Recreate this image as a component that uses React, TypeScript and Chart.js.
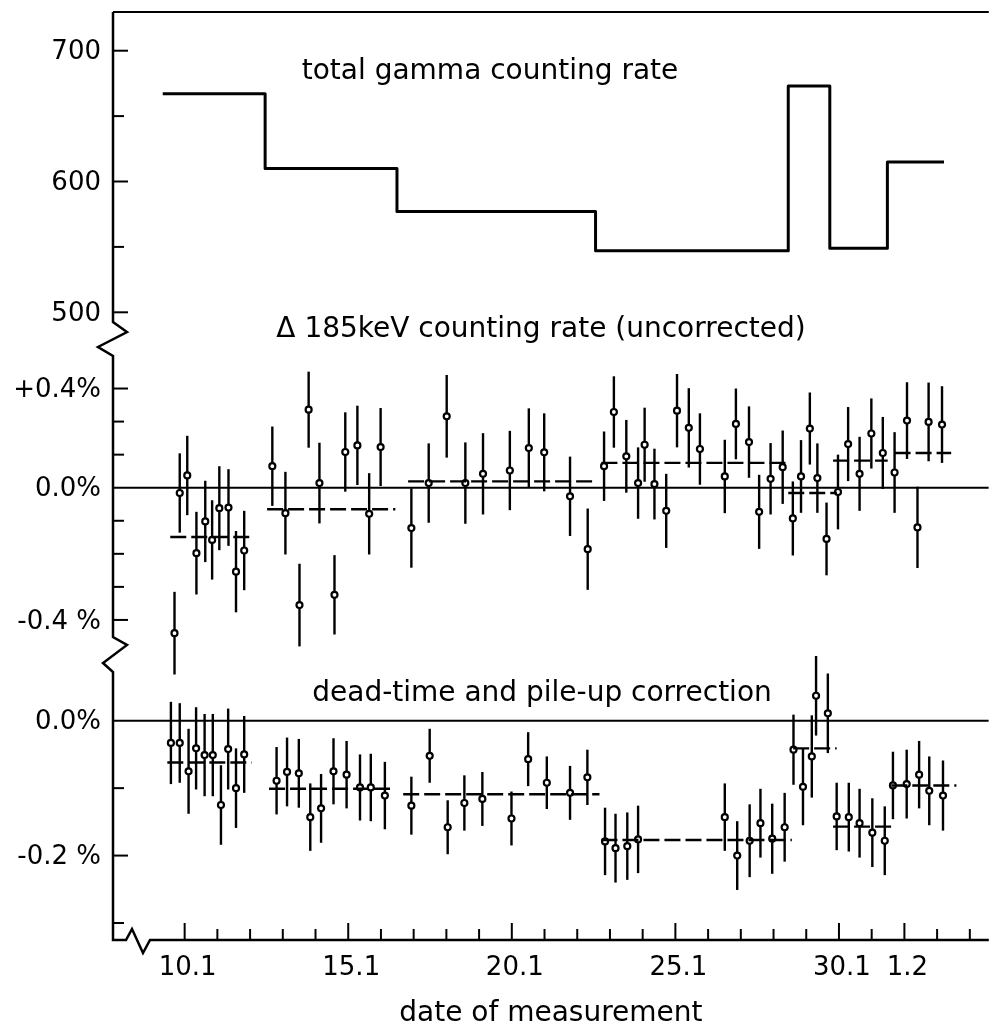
import React, { useEffect, useRef } from 'react';
import { Chart, registerables } from 'chart.js';

Chart.register(...registerables);

const FONT = "'DejaVu Sans', sans-serif";

// ---- top panel: total gamma counting rate (step line) ----
const periodEdges = [9.33, 12.46, 16.49, 22.56, 28.45, 29.72, 31.48, 33.21];
const totalRate = [667, 610, 577, 547, 673, 549, 615];

// ---- middle panel: delta 185 keV counting rate (uncorrected), % ----
const midDays = [
  9.69, 9.85, 10.08, 10.36, 10.63, 10.84, 11.06, 11.34, 11.57, 11.82,
  12.68, 13.08, 13.51, 13.79, 14.12, 14.58, 14.91, 15.28, 15.64, 15.99,
  16.93, 17.46, 18.01, 18.58, 19.12, 19.94, 20.52, 20.99, 21.78, 22.32,
  22.82, 23.12, 23.5, 23.86, 24.06, 24.36, 24.72, 25.05, 25.41, 25.75, 26.51, 26.85, 27.25, 27.56, 27.91, 28.28,
  28.59, 28.84, 29.11, 29.34, 29.62,
  29.97, 30.28, 30.63, 30.99, 31.34,
  31.7, 32.08, 32.4, 32.74, 33.15,
];
const midValues = [
  -0.44, -0.016, 0.037, -0.198, -0.102, -0.158, -0.062, -0.06, -0.254, -0.19,
  0.065, -0.077, -0.355, 0.236, 0.014, -0.324, 0.108, 0.128, -0.079, 0.123,
  -0.122, 0.014, 0.216, 0.014, 0.042, 0.052, 0.12, 0.107, -0.026, -0.186,
  0.065, 0.229, 0.095, 0.014, 0.13, 0.011, -0.07, 0.233, 0.181, 0.117, 0.034, 0.193, 0.138, -0.073, 0.027, 0.062,
  -0.093, 0.034, 0.179, 0.029, -0.155,
  -0.013, 0.132, 0.042, 0.164, 0.105,
  0.046, 0.203, -0.12, 0.199, 0.191,
];
const midErrors = [
  0.125, 0.12, 0.12, 0.125, 0.123, 0.12, 0.127, 0.116, 0.123, 0.12,
  0.12, 0.125, 0.125, 0.115, 0.122, 0.12, 0.12, 0.12, 0.123, 0.118,
  0.12, 0.12, 0.125, 0.123, 0.123, 0.12, 0.12, 0.118, 0.12, 0.123,
  0.105, 0.108, 0.11, 0.108, 0.112, 0.107, 0.112, 0.111, 0.12, 0.108, 0.111, 0.107, 0.108, 0.112, 0.108, 0.111,
  0.112, 0.11, 0.109, 0.105, 0.11,
  0.113, 0.112, 0.112, 0.106, 0.109,
  0.122, 0.116, 0.123, 0.119, 0.116,
];
const midMeanStart = [9.56, 12.52, 16.83, 22.74, 28.45, 29.82, 31.7];
const midMeanEnd = [12.12, 16.44, 22.59, 28.48, 29.94, 31.49, 33.43];
const midMeanValue = [-0.149, -0.065, 0.019, 0.075, -0.016, 0.082, 0.105];

// ---- bottom panel: dead-time and pile-up correction, % ----
const botDays = [
  9.58, 9.85, 10.12, 10.35, 10.61, 10.86, 11.11, 11.33, 11.57, 11.82,
  12.81, 13.13, 13.49, 13.84, 14.17, 14.55, 14.95, 15.36, 15.69, 16.12,
  16.93, 17.49, 18.04, 18.55, 19.1, 19.99, 20.5, 21.07, 21.78, 22.31,
  22.85, 23.17, 23.53, 23.86, 26.51, 26.89, 27.27, 27.6, 27.96, 28.34,
  28.61, 28.9, 29.17, 29.3, 29.66,
  29.93, 30.3, 30.63, 31.02, 31.4,
  31.65, 32.07, 32.45, 32.76, 33.18,
];
const botValues = [
  -0.033, -0.033, -0.075, -0.041, -0.051, -0.051, -0.125, -0.042, -0.1, -0.05,
  -0.089, -0.076, -0.078, -0.143, -0.13, -0.075, -0.08, -0.099, -0.099, -0.111,
  -0.126, -0.052, -0.158, -0.122, -0.116, -0.145, -0.057, -0.092, -0.107, -0.084,
  -0.179, -0.189, -0.186, -0.176, -0.143, -0.2, -0.178, -0.152, -0.175, -0.158,
  -0.043, -0.098, -0.053, 0.037, 0.011,
  -0.142, -0.143, -0.152, -0.166, -0.178,
  -0.096, -0.094, -0.08, -0.104, -0.111,
];
const botErrors = [
  0.061, 0.059, 0.063, 0.061, 0.061, 0.061, 0.059, 0.06, 0.059, 0.057,
  0.05, 0.051, 0.051, 0.05, 0.051, 0.049, 0.05, 0.049, 0.05, 0.05,
  0.043, 0.04, 0.04, 0.041, 0.04, 0.04, 0.04, 0.039, 0.04, 0.041,
  0.05, 0.051, 0.05, 0.05, 0.05, 0.051, 0.054, 0.051, 0.052, 0.051,
  0.052, 0.057, 0.061, 0.059, 0.059,
  0.05, 0.051, 0.051, 0.051, 0.051,
  0.05, 0.051, 0.05, 0.051, 0.052,
];
const botMeanStart = [9.47, 12.58, 16.68, 22.74, 28.6, 29.82, 31.6];
const botMeanEnd = [12.05, 16.4, 22.68, 28.56, 29.93, 31.6, 33.59];
const botMeanValue = [-0.062, -0.101, -0.109, -0.177, -0.041, -0.157, -0.096];

// ---- axes: ticks and labels ----
const xTickDays = [10, 11, 12, 13, 14, 15, 16, 17, 18, 19, 20, 21, 22, 23, 24, 25, 26, 27, 28, 29, 30, 31, 32, 33, 34];
const xLabelDays = [10, 15, 20, 25, 30, 32];
const xLabels = ['10.1', '15.1', '20.1', '25.1', '30.1', '1.2'];

const topTickValues = [700, 600, 500];
const topTickLabels = ['700', '600', '500'];
const topMinorTicks = [650, 550];
const midTickValues = [0.3, 0, -0.4];
const midTickLabels = ['+0.4%', '0.0%', '-0.4 %'];
const midMinorTicks = [0.2, 0.1, -0.1, -0.2, -0.3];
const botTickValues = [0, -0.2];
const botTickLabels = ['0.0%', '-0.2 %'];
const botMinorTicks = [-0.1, -0.3];

const titles = {
  top: 'total gamma counting rate',
  mid: 'Δ 185keV counting rate (uncorrected)',
  bot: 'dead-time and pile-up correction',
  x: 'date of measurement',
};

const X_MIN = 7.81;
const X_MAX = 34.58;

const segData = (s: number[], e: number[], v: number[]) =>
  s.flatMap((x, i) => [
    { x, y: v[i] },
    { x: e[i], y: v[i] },
    { x: e[i], y: null },
  ]);

const decorPlugin = {
  id: 'decor',
  beforeDatasetsDraw(chart: any) {
    const ctx = chart.ctx;
    const xs = chart.scales.x;
    const drawErr = (days: number[], vals: number[], errs: number[], ys: any) => {
      ctx.save();
      ctx.strokeStyle = '#000';
      ctx.lineWidth = 2.4;
      days.forEach((d, i) => {
        const px = xs.getPixelForValue(d);
        ctx.beginPath();
        ctx.moveTo(px, ys.getPixelForValue(vals[i] + errs[i]));
        ctx.lineTo(px, ys.getPixelForValue(vals[i] - errs[i]));
        ctx.stroke();
      });
      ctx.restore();
    };
    drawErr(midDays, midValues, midErrors, chart.scales.yMid);
    drawErr(botDays, botValues, botErrors, chart.scales.yBot);
  },
  afterDraw(chart: any) {
    const ctx = chart.ctx;
    const { left: L, right: R, top: T, bottom: B } = chart.chartArea;
    const xs = chart.scales.x;
    ctx.save();
    ctx.strokeStyle = '#000';
    ctx.fillStyle = '#000';
    ctx.lineJoin = 'miter';
    // frame top
    ctx.lineWidth = 2;
    ctx.beginPath();
    ctx.moveTo(L, T);
    ctx.lineTo(R, T);
    ctx.stroke();
    // left axis with breaks and bottom axis with break
    ctx.lineWidth = 2.5;
    ctx.beginPath();
    ctx.moveTo(L, T);
    ctx.lineTo(L, 322);
    ctx.lineTo(L + 14, 332);
    ctx.lineTo(L - 15, 347);
    ctx.lineTo(L, 356);
    ctx.lineTo(L, 637);
    ctx.lineTo(L + 14, 645);
    ctx.lineTo(L - 10, 663);
    ctx.lineTo(L, 672);
    ctx.lineTo(L, B);
    ctx.lineTo(L + 13, B);
    ctx.lineTo(L + 19, B - 11);
    ctx.lineTo(L + 30, B + 13);
    ctx.lineTo(L + 37, B);
    ctx.lineTo(R, B);
    ctx.stroke();

    // y ticks
    ctx.lineWidth = 2;
    const yTicks = (ys: any, major: number[], minor: number[]) => {
      major.forEach((v) => {
        const py = ys.getPixelForValue(v);
        ctx.beginPath();
        ctx.moveTo(L, py);
        ctx.lineTo(L + 15, py);
        ctx.stroke();
      });
      minor.forEach((v) => {
        const py = ys.getPixelForValue(v);
        ctx.beginPath();
        ctx.moveTo(L, py);
        ctx.lineTo(L + 11, py);
        ctx.stroke();
      });
    };
    yTicks(chart.scales.yTop, topTickValues, topMinorTicks);
    yTicks(chart.scales.yMid, midTickValues.filter((v) => v !== 0), midMinorTicks);
    yTicks(chart.scales.yBot, botTickValues.filter((v) => v !== 0), botMinorTicks);

    // x ticks (inward)
    xTickDays.forEach((d) => {
      const px = xs.getPixelForValue(d);
      const len = xLabelDays.includes(d) ? 17 : 11;
      ctx.beginPath();
      ctx.moveTo(px, B);
      ctx.lineTo(px, B - len);
      ctx.stroke();
    });

    // y labels
    ctx.font = `26px ${FONT}`;
    ctx.textAlign = 'right';
    ctx.textBaseline = 'middle';
    const yLabels = (ys: any, vals: number[], labels: string[]) => {
      vals.forEach((v, i) => ctx.fillText(labels[i], L - 12, ys.getPixelForValue(v) + 2));
    };
    yLabels(chart.scales.yTop, topTickValues, topTickLabels);
    yLabels(chart.scales.yMid, midTickValues, midTickLabels);
    yLabels(chart.scales.yBot, botTickValues, botTickLabels);

    // panel titles
    ctx.font = `28px ${FONT}`;
    ctx.textAlign = 'center';
    ctx.textBaseline = 'alphabetic';
    ctx.fillText(titles.top, 490, 79);
    ctx.fillText(titles.mid, 541, 337);
    ctx.fillText(titles.bot, 542, 701);
    ctx.restore();
  },
};

export default function App() {
  const ref = useRef<HTMLCanvasElement>(null);
  useEffect(() => {
    if (!ref.current) return;
    const black = '#000';
    const lineDs = (data: any[], yAxisID: string, extra: any = {}) => ({
      type: 'line',
      data,
      yAxisID,
      borderColor: black,
      borderWidth: 2,
      pointRadius: 0,
      showLine: true,
      spanGaps: false,
      fill: false,
      ...extra,
    });
    const pointDs = (days: number[], vals: number[], yAxisID: string) => ({
      type: 'line',
      data: days.map((x, i) => ({ x, y: vals[i] })),
      yAxisID,
      showLine: false,
      pointRadius: 3,
      pointBorderWidth: 2.2,
      pointBackgroundColor: '#fff',
      pointBorderColor: black,
    });
    const chart = new Chart(ref.current, {
      type: 'line',
      data: {
        datasets: [
          lineDs(
            periodEdges.map((x, i) => ({ x, y: totalRate[Math.min(i, totalRate.length - 1)] })),
            'yTop',
            { stepped: 'before', borderWidth: 3, borderJoinStyle: 'round' }
          ),
          lineDs([{ x: X_MIN, y: 0 }, { x: X_MAX, y: 0 }], 'yMid'),
          lineDs([{ x: X_MIN, y: 0 }, { x: X_MAX, y: 0 }], 'yBot'),
          lineDs(segData(midMeanStart, midMeanEnd, midMeanValue), 'yMid', { borderDash: [16, 5], borderWidth: 2.4 }),
          lineDs(segData(botMeanStart, botMeanEnd, botMeanValue), 'yBot', { borderDash: [16, 5], borderWidth: 2.4 }),
          pointDs(midDays, midValues, 'yMid'),
          pointDs(botDays, botValues, 'yBot'),
        ] as any,
      },
      options: {
        responsive: false,
        animation: false,
        devicePixelRatio: 1,
        events: [],
        layout: { padding: { left: 113, top: 12, right: 0, bottom: 0 } },
        plugins: { legend: { display: false }, tooltip: { enabled: false } },
        scales: {
          x: {
            type: 'linear',
            position: 'bottom',
            min: X_MIN,
            max: X_MAX,
            afterFit: (s: any) => {
              s.height = 87;
            },
            afterBuildTicks: (s: any) => {
              s.ticks = xLabelDays.map((v) => ({ value: v }));
            },
            grid: { display: false, drawTicks: false },
            border: { display: false },
            ticks: {
              autoSkip: false,
              maxRotation: 0,
              padding: 13,
              labelOffset: 3,
              color: '#000',
              font: { family: FONT, size: 26 },
              callback: (v: any) => {
                const i = xLabelDays.indexOf(Number(v));
                return i >= 0 ? xLabels[i] : '';
              },
            },
            title: {
              display: true,
              text: titles.x,
              color: '#000',
              font: { family: FONT, size: 28 },
              padding: { top: 4, bottom: -4 },
            },
          },
          yTop: { type: 'linear', min: 20.11, max: 729.59, display: false },
          yMid: { type: 'linear', min: -1.3681, max: 1.4389, display: false },
          yBot: { type: 'linear', min: -0.3252, max: 1.051, display: false },
        } as any,
      },
      plugins: [decorPlugin],
    } as any);
    return () => chart.destroy();
  }, []);
  return (
    <div style={{ position: 'absolute', left: 0, top: 0, width: 995, height: 1027, background: '#fff' }}>
      <canvas ref={ref} width={995} height={1027} />
    </div>
  );
}
